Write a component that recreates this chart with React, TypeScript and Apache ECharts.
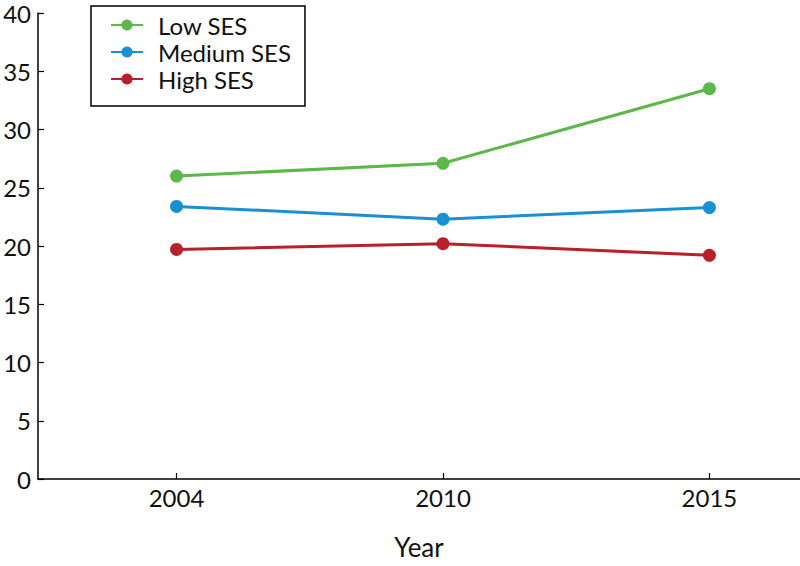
import React, { useEffect, useRef } from "react";
import * as echarts from "echarts";

const years = ["2004", "2010", "2015"];
const lowSES = [26.0, 27.1, 33.5];
const mediumSES = [23.4, 22.3, 23.3];
const highSES = [19.7, 20.2, 19.2];
const yTicks = [0, 5, 10, 15, 20, 25, 30, 35, 40];

const FONT = "Lato, 'Open Sans', sans-serif";

export default function App() {
  const ref = useRef<HTMLDivElement>(null);
  useEffect(() => {
    if (!ref.current) return;
    const chart = echarts.init(ref.current, undefined, { renderer: "svg" });
    const idx = years.map((_, i) => i);
    const mk = (vals: number[]) => vals.map((v, i) => [i, v]);
    const series = [
      { name: "Low SES", color: "#5cb848", data: lowSES },
      { name: "Medium SES", color: "#1a8fd3", data: mediumSES },
      { name: "High SES", color: "#b8202a", data: highSES },
    ].map((s) => ({
      name: s.name,
      type: "line",
      data: mk(s.data),
      symbol: "circle",
      symbolSize: 13,
      itemStyle: { color: s.color },
      lineStyle: { color: s.color, width: 3 },
    }));
    chart.setOption({
      animation: false,
      textStyle: { fontFamily: FONT },
      legend: {
        left: 91,
        top: 6,
        orient: "vertical",
        borderColor: "#000",
        borderWidth: 1.5,
        padding: [7, 14, 15, 19],
        itemWidth: 32,
        itemHeight: 14,
        itemGap: 3,
        textStyle: {
          fontSize: 24,
          lineHeight: 24,
          color: "#111",
          fontFamily: FONT,
          padding: [0, 0, 0, 10],
        },
        data: series.map((s) => s.name),
      },
      grid: { left: 38, right: 0, top: 13, bottom: 87, containLabel: false },
      xAxis: {
        type: "value",
        min: -0.52,
        max: 2.34,
        name: "Year",
        nameLocation: "middle",
        nameGap: 55,
        nameTextStyle: { fontSize: 26, color: "#111", fontFamily: FONT },
        splitLine: { show: false },
        axisLine: { lineStyle: { color: "#000", width: 1.5 } },
        axisTick: { inside: true, length: 6, customValues: idx, lineStyle: { color: "#000", width: 1.2 } },
        axisLabel: {
          customValues: idx,
          formatter: (v: number) => years[Math.round(v)] ?? "",
          fontSize: 24,
          color: "#111",
          margin: 6,
          fontFamily: FONT,
        },
      },
      yAxis: {
        type: "value",
        min: yTicks[0],
        max: yTicks[yTicks.length - 1],
        interval: 5,
        splitLine: { show: false },
        axisLine: { show: true, onZero: false, lineStyle: { color: "#000", width: 1.5 } },
        axisTick: { show: true, inside: true, length: 6, lineStyle: { color: "#000", width: 1.2 } },
        axisLabel: { fontSize: 24, color: "#111", margin: 7, fontFamily: FONT },
      },
      series,
    });
    return () => chart.dispose();
  }, []);
  return (
    <div
      ref={ref}
      style={{ position: "absolute", left: 0, top: 0, width: 800, height: 566, background: "#fff" }}
    />
  );
}
